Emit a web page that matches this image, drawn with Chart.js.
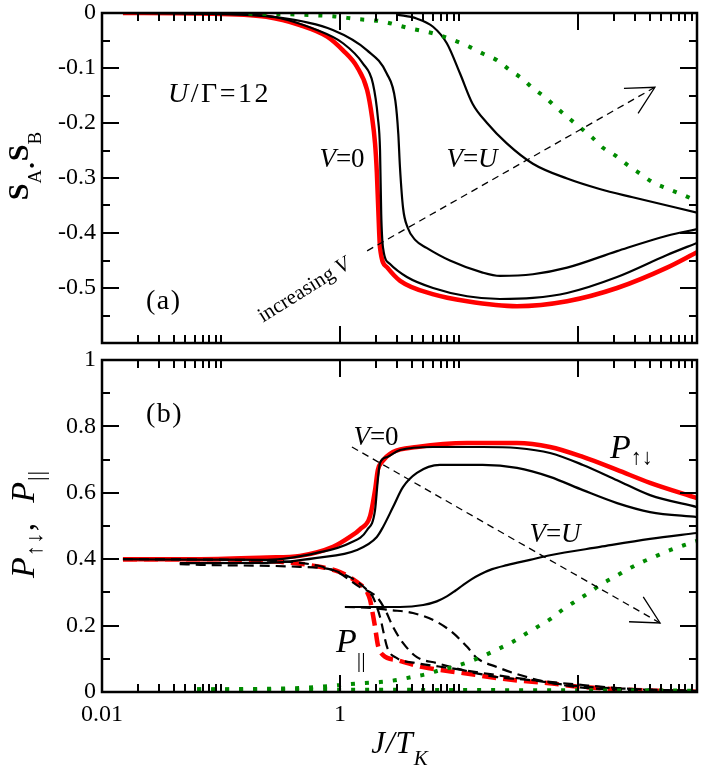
<!DOCTYPE html>
<html>
<head>
<meta charset="utf-8">
<script src="https://cdn.jsdelivr.net/npm/chart.js@4.4.1/dist/chart.umd.min.js"></script>
<style>
  html, body { margin: 0; padding: 0; background: #fff; }
  #wrap { position: relative; width: 702px; height: 770px; }
  canvas { position: absolute; left: 0; top: 0; }
</style>
</head>
<body>
<div id="wrap">
  <canvas id="spin" width="702" height="770"></canvas>
  <canvas id="prob" width="702" height="770"></canvas>
</div>
<script>
// axis ticks
const xTicks = [0.01, 1, 100];
const xTickLabels = ["0.01", "1", "100"];
const spinTicks = [-0.5, -0.4, -0.3, -0.2, -0.1, 0];
const spinTickLabels = ["-0.5", "-0.4", "-0.3", "-0.2", "-0.1", "0"];
const probTicks = [0, 0.2, 0.4, 0.6, 0.8, 1];
const probTickLabels = ["0", "0.2", "0.4", "0.6", "0.8", "1"];

// (a) S_A.S_B vs J/T_K
const spinV0x = [0.015, 0.067, 0.24, 0.46, 0.78, 1.06, 1.39, 1.69, 1.86, 1.97, 2.04, 2.1, 2.17, 2.5, 3.2, 6.0, 11.7, 30.7, 81, 213, 560, 1000];
const spinV0y = [0, -0.001, -0.007, -0.022, -0.043, -0.068, -0.098, -0.14, -0.19, -0.237, -0.29, -0.36, -0.427, -0.463, -0.487, -0.511, -0.524, -0.533, -0.524, -0.5, -0.463, -0.435];
const spinV1x = [0.015, 0.067, 0.24, 0.64, 1.06, 1.56, 1.89, 2.08, 2.17, 2.22, 2.3, 2.62, 3.65, 6.05, 11.7, 22.1, 41.8, 81, 213, 560, 1000];
const spinV1y = [0, -0.001, -0.005, -0.031, -0.055, -0.092, -0.128, -0.19, -0.25, -0.365, -0.427, -0.456, -0.48, -0.5, -0.515, -0.52, -0.518, -0.509, -0.48, -0.44, -0.418];
const spinV2x = [0.045, 0.3, 0.87, 1.69, 2.47, 2.92, 3.09, 3.19, 3.39, 3.7, 4.3, 5.34, 8.39, 15.8, 22.1, 41.8, 81, 213, 560, 1000];
const spinV2y = [0, -0.008, -0.031, -0.068, -0.11, -0.16, -0.22, -0.28, -0.355, -0.39, -0.413, -0.427, -0.45, -0.472, -0.478, -0.475, -0.463, -0.433, -0.405, -0.393];
const spinVUx = [3.01, 4.4, 6.05, 7.9, 10.2, 13.0, 17.2, 25.2, 41.8, 81, 152, 288, 1000];
const spinVUy = [-0.003, -0.01, -0.025, -0.055, -0.11, -0.165, -0.2, -0.237, -0.274, -0.301, -0.32, -0.335, -0.363];
const spinGx = [0.17, 0.46, 0.87, 1.39, 2.2, 3.87, 6.05, 8.9, 12.4, 15.9, 20.9, 26.8, 33.8, 41.8, 52.8, 66.7, 82.4, 104, 131, 162, 205, 263, 332, 427, 560, 748, 1000];
const spinGy = [-0.001, -0.003, -0.006, -0.011, -0.015, -0.028, -0.037, -0.049, -0.062, -0.074, -0.086, -0.104, -0.119, -0.137, -0.153, -0.173, -0.19, -0.208, -0.226, -0.245, -0.259, -0.277, -0.292, -0.308, -0.319, -0.33, -0.342];

// (b) P_updown (solid) and P_par (dashed)
const pudV0x = [0.015, 0.067, 0.244, 0.46, 0.873, 1.21, 1.47, 1.79, 1.97, 2.08, 2.25, 2.79, 4.43, 11.7, 30.7, 58.2, 110, 213, 403, 1000];
const pudV0y = [0.4, 0.4, 0.405, 0.41, 0.437, 0.467, 0.49, 0.53, 0.608, 0.669, 0.693, 0.723, 0.738, 0.75, 0.75, 0.738, 0.708, 0.669, 0.63, 0.584];
const pudV1x = [0.015, 0.067, 0.244, 0.64, 1.21, 1.69, 1.97, 2.08, 2.17, 2.5, 3.19, 6.05, 15.8, 30.7, 58.2, 110, 213, 403, 1000];
const pudV1y = [0.4, 0.399, 0.398, 0.419, 0.449, 0.488, 0.548, 0.64, 0.69, 0.708, 0.729, 0.738, 0.738, 0.735, 0.72, 0.684, 0.638, 0.593, 0.557];
const pudV2x = [0.045, 0.244, 0.64, 1.39, 2.04, 2.3, 2.79, 3.38, 4.43, 6.92, 15.8, 30.7, 58.2, 110, 213, 403, 1000];
const pudV2y = [0.388, 0.389, 0.404, 0.428, 0.467, 0.497, 0.557, 0.617, 0.66, 0.684, 0.684, 0.675, 0.648, 0.608, 0.569, 0.542, 0.527];
const pudVUx = [1.1, 3.19, 5.0, 6.5, 7.9, 9.3, 10.8, 12.8, 15.0, 19.0, 25.3, 39.5, 58.2, 153, 403, 1000];
const pudVUy = [0.256, 0.256, 0.262, 0.273, 0.288, 0.305, 0.322, 0.34, 0.354, 0.37, 0.382, 0.398, 0.412, 0.437, 0.461, 0.479];
const pudGx = [0.063, 0.46, 0.94, 1.21, 1.6, 2.17, 3.0, 4.0, 5.34, 6.92, 9.2, 12.4, 15.9, 20.9, 27.9, 35.9, 46, 60.6, 74.3, 98, 125, 158, 204, 263, 344, 443, 592, 790, 1000];
const pudGy = [0.008, 0.012, 0.02, 0.024, 0.027, 0.03, 0.036, 0.045, 0.054, 0.066, 0.077, 0.092, 0.108, 0.128, 0.15, 0.174, 0.197, 0.223, 0.248, 0.276, 0.3, 0.325, 0.347, 0.37, 0.391, 0.408, 0.427, 0.443, 0.455];

const parV0x = [0.015, 0.067, 0.313, 0.56, 1.0, 1.39, 1.69, 1.79, 1.86, 1.97, 2.08, 2.3, 3.01, 4.98, 10.8, 28.5, 54.8, 110, 290, 1000];
const parV0y = [0.4, 0.4, 0.392, 0.382, 0.361, 0.331, 0.301, 0.277, 0.247, 0.196, 0.142, 0.111, 0.096, 0.075, 0.057, 0.036, 0.027, 0.015, 0.006, 0.001];
const parV1x = [0.015, 0.067, 0.46, 1.21, 1.69, 1.89, 2.17, 2.5, 3.01, 4.43, 8.39, 15.8, 41.8, 110, 290, 1000];
const parV1y = [0.4, 0.399, 0.389, 0.346, 0.307, 0.286, 0.226, 0.133, 0.102, 0.087, 0.072, 0.057, 0.036, 0.021, 0.009, 0.003];
const parV2x = [0.045, 0.067, 0.46, 0.87, 1.47, 2.04, 2.4, 2.79, 3.38, 4.43, 6.53, 10.8, 20.9, 39.5, 98, 290, 1000];
const parV2y = [0.385, 0.383, 0.377, 0.367, 0.316, 0.286, 0.247, 0.196, 0.148, 0.105, 0.087, 0.066, 0.045, 0.036, 0.018, 0.009, 0.003];
const parVUx = [1.1, 1.89, 2.62, 4.1, 6.53, 8.9, 11.7, 14.2, 20.9, 32.6, 54.8, 98, 290, 1000];
const parVUy = [0.256, 0.253, 0.247, 0.238, 0.211, 0.178, 0.136, 0.102, 0.075, 0.051, 0.03, 0.015, 0.006, 0.003];
const parGx = [0.063, 1, 10, 100, 1000];
const parGy = [0.008, 0.007, 0.006, 0.005, 0.004];

// arrows in data coordinates [x0, y0, x1, y1]
const spinArrow = [1.69, -0.4325, 443, -0.135];
const probArrow = [1.26, 0.738, 489, 0.208];

const SERIF = '"Liberation Serif", "Times New Roman", serif';
const RED = "#ff0000";
const GREEN = "#008b00";
Chart.defaults.font.family = SERIF;
Chart.defaults.color = "#000";

const pts = (xs, ys) => xs.map((x, i) => ({ x: x, y: ys[i] }));

function solid(xs, ys, color, w) {
  return { data: pts(xs, ys), borderColor: color, borderWidth: w, pointRadius: 0,
    cubicInterpolationMode: "monotone", fill: false };
}
function dashed(xs, ys, color, w, dash) {
  const d = solid(xs, ys, color, w);
  d.borderDash = dash;
  return d;
}
function dotted(xs, ys) {
  const d = solid(xs, ys, GREEN, 4);
  d.borderDash = [4, 10];
  d.borderCapStyle = "butt";
  return d;
}

// text with sub/superscripts: parts = [text, font, dy]
function rich(ctx, x, y, parts, align, spacing) {
  ctx.save();
  ctx.letterSpacing = (spacing || 0) + "px";
  let w = 0;
  parts.forEach((p) => { ctx.font = p[1]; w += ctx.measureText(p[0]).width; });
  let cx = align === "center" ? x - w / 2 : x;
  ctx.textAlign = "left";
  ctx.textBaseline = "alphabetic";
  ctx.fillStyle = "#000";
  parts.forEach((p) => {
    ctx.font = p[1];
    ctx.fillText(p[0], cx, y + (p[2] || 0));
    cx += ctx.measureText(p[0]).width;
  });
  ctx.restore();
}

function arrow(ctx, xs, ys, a) {
  const x0 = xs.getPixelForValue(a[0]), y0 = ys.getPixelForValue(a[1]);
  const x1 = xs.getPixelForValue(a[2]), y1 = ys.getPixelForValue(a[3]);
  ctx.save();
  ctx.strokeStyle = "#000";
  ctx.lineWidth = 1.3;
  ctx.setLineDash([7, 5]);
  ctx.beginPath(); ctx.moveTo(x0, y0); ctx.lineTo(x1, y1); ctx.stroke();
  ctx.setLineDash([]);
  const ang = Math.atan2(y1 - y0, x1 - x0) + Math.PI;
  const h = 0.48, L = 31;
  ctx.beginPath();
  ctx.moveTo(x1 + L * Math.cos(ang - h), y1 + L * Math.sin(ang - h));
  ctx.lineTo(x1, y1);
  ctx.lineTo(x1 + L * Math.cos(ang + h), y1 + L * Math.sin(ang + h));
  ctx.stroke();
  ctx.restore();
}

const xMinor = [];
[0.01, 1, 100].forEach((m) => { for (let k = 2; k <= 10; k++) xMinor.push(m * k); });

function framePlugin(yMajor, yMinor) {
  return {
    id: "frame",
    afterDatasetsDraw(chart) {
      const { ctx, chartArea: a } = chart;
      const xs = chart.scales.x, ys = chart.scales.y;
      ctx.save();
      ctx.strokeStyle = "#000";
      ctx.lineWidth = 2;
      ctx.beginPath();
      const vt = (v, len) => {
        const p = Math.round(xs.getPixelForValue(v));
        ctx.moveTo(p, a.bottom); ctx.lineTo(p, a.bottom - len);
        ctx.moveTo(p, a.top); ctx.lineTo(p, a.top + len);
      };
      const ht = (v, len) => {
        const p = Math.round(ys.getPixelForValue(v));
        ctx.moveTo(a.left, p); ctx.lineTo(a.left + len, p);
        ctx.moveTo(a.right, p); ctx.lineTo(a.right - len, p);
      };
      xTicks.forEach((v) => vt(v, 17));
      xMinor.forEach((v) => vt(v, 8));
      yMajor.forEach((v) => ht(v, 17));
      yMinor.forEach((v) => ht(v, 8));
      ctx.stroke();
      ctx.lineWidth = 2.5;
      ctx.strokeRect(a.left, a.top, a.right - a.left, a.bottom - a.top);
      ctx.restore();
    }
  };
}

function yAxis(min, max, ticks, labels) {
  return {
    min: min, max: max,
    afterBuildTicks: (s) => { s.ticks = ticks.map((v) => ({ value: v })); },
    afterFit: (s) => { s.width = 102; s.paddingTop = 0; s.paddingBottom = 0; },
    grid: { display: false, drawTicks: false },
    border: { display: false },
    ticks: { callback: (v, i) => labels[i], font: { size: 24 }, color: "#000", padding: 6 }
  };
}

new Chart(document.getElementById("spin"), {
  type: "line",
  data: {
    datasets: [
      dotted(spinGx, spinGy),
      solid(spinVUx, spinVUy, "#000", 2.2),
      solid(spinV2x, spinV2y, "#000", 2.2),
      solid(spinV1x, spinV1y, "#000", 2.2),
      solid(spinV0x, spinV0y, RED, 4.5)
    ]
  },
  options: {
    responsive: false,
    animation: false,
    layout: { padding: { top: 13, right: 5, bottom: 427, left: 0 } },
    plugins: { legend: { display: false }, tooltip: { enabled: false } },
    scales: {
      x: { type: "logarithmic", min: 0.01, max: 1000, display: false },
      y: yAxis(-0.6, 0, spinTicks, spinTickLabels)
    }
  },
  plugins: [
    framePlugin(spinTicks, [-0.55, -0.45, -0.35, -0.25, -0.15, -0.05]),
    {
      id: "labelsA",
      afterDraw(chart) {
        const ctx = chart.ctx;
        arrow(ctx, chart.scales.x, chart.scales.y, spinArrow);
        rich(ctx, 168, 102, [["U", "italic 28px " + SERIF], ["/\u0393=12", "28px " + SERIF]], "left", 2.5);
        rich(ctx, 342, 167, [["V", "italic 27px " + SERIF], ["=0", "27px " + SERIF]], "center");
        rich(ctx, 472, 167, [["V", "italic 27px " + SERIF], ["=", "27px " + SERIF], ["U", "italic 27px " + SERIF]], "center");
        rich(ctx, 146, 309, [["(a)", "28px " + SERIF]], "left", 1.5);
        ctx.save();
        ctx.translate(304, 290);
        ctx.rotate(-32 * Math.PI / 180);
        rich(ctx, 0, 6, [["increasing ", "21px " + SERIF], ["V", "italic 21px " + SERIF]], "center");
        ctx.restore();
        ctx.save();
        ctx.translate(28, 166);
        ctx.rotate(-Math.PI / 2);
        rich(ctx, 0, 0, [["S", "bold 30px " + SERIF], ["A", "19px " + SERIF, 13], ["\u00b7", "bold 26px " + SERIF, 12],
          ["S", "bold 30px " + SERIF], ["B", "19px " + SERIF, 13]], "center");
        ctx.restore();
      }
    }
  ]
});

new Chart(document.getElementById("prob"), {
  type: "line",
  data: {
    datasets: [
      dotted(parGx, parGy),
      dotted(pudGx, pudGy),
      dashed(parVUx, parVUy, "#000", 2.2, [10, 6]),
      dashed(parV2x, parV2y, "#000", 2.2, [10, 6]),
      dashed(parV1x, parV1y, "#000", 2.2, [10, 6]),
      solid(pudVUx, pudVUy, "#000", 2.2),
      solid(pudV2x, pudV2y, "#000", 2.2),
      solid(pudV1x, pudV1y, "#000", 2.2),
      dashed(parV0x, parV0y, RED, 4.5, [14, 7]),
      solid(pudV0x, pudV0y, RED, 4.5)
    ]
  },
  options: {
    responsive: false,
    animation: false,
    layout: { padding: { top: 360, right: 5, bottom: 0, left: 0 } },
    plugins: { legend: { display: false }, tooltip: { enabled: false } },
    scales: {
      x: {
        type: "logarithmic", min: 0.01, max: 1000,
        afterBuildTicks: (s) => { s.ticks = xTicks.map((v) => ({ value: v })); },
        afterFit: (s) => { s.height = 78; s.paddingLeft = 0; s.paddingRight = 0; },
        grid: { display: false, drawTicks: false },
        border: { display: false },
        ticks: { callback: (v, i) => xTickLabels[i], font: { size: 24 }, color: "#000",
          padding: 8, maxRotation: 0, autoSkip: false }
      },
      y: yAxis(0, 1, probTicks, probTickLabels)
    }
  },
  plugins: [
    framePlugin(probTicks, [0.1, 0.3, 0.5, 0.7, 0.9]),
    {
      id: "labelsB",
      afterDraw(chart) {
        const ctx = chart.ctx;
        arrow(ctx, chart.scales.x, chart.scales.y, probArrow);
        rich(ctx, 146, 422, [["(b)", "28px " + SERIF]], "left", 1.5);
        rich(ctx, 376, 445, [["V", "italic 27px " + SERIF], ["=0", "27px " + SERIF]], "center");
        rich(ctx, 555, 542, [["V", "italic 27px " + SERIF], ["=", "27px " + SERIF], ["U", "italic 27px " + SERIF]], "center");
        rich(ctx, 610, 458, [["P", "italic 34px " + SERIF], ["\u2191\u2193", "22px " + SERIF, 6]], "left");
        rich(ctx, 336, 652, [["P", "italic 34px " + SERIF], ["||", "22px " + SERIF, 15]], "left");
        rich(ctx, 400, 753, [["J/T", "italic 31px " + SERIF], ["K", "italic 21px " + SERIF, 12]], "center", 1);
        ctx.save();
        ctx.translate(34, 524);
        ctx.rotate(-Math.PI / 2);
        rich(ctx, 0, 0, [["P", "italic 34px " + SERIF], ["\u2191\u2193", "23px " + SERIF, 8], [",  ", "34px " + SERIF],
          ["P", "italic 34px " + SERIF], ["||", "23px " + SERIF, 10]], "center", 1);
        ctx.restore();
      }
    }
  ]
});
</script>
</body>
</html>
